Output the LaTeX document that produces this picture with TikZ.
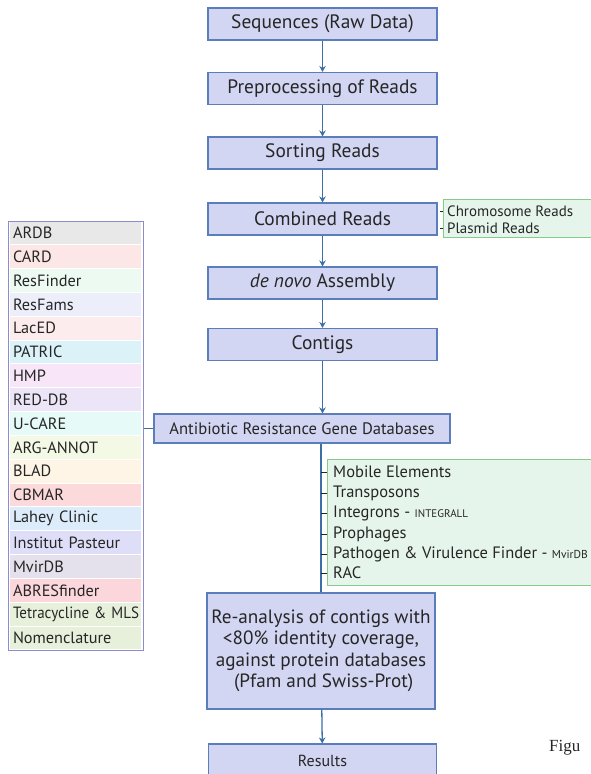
\documentclass[tikz,border=0pt]{standalone}
\usepackage{fontspec}
\setmainfont{PT Sans}
\newfontfamily\capfont{Liberation Serif}
\usetikzlibrary{arrows.meta,positioning}

\definecolor{boxfill}{HTML}{D2D6F2}
\definecolor{boxline}{HTML}{5B7EBB}
\definecolor{arrowc}{HTML}{3C6FA6}
\definecolor{txt}{HTML}{262626}
\definecolor{greenfill}{HTML}{E6F5EC}
\definecolor{greenline}{HTML}{86CC86}
\definecolor{listline}{HTML}{8C8CCC}
\definecolor{dA}{HTML}{E8E8E8}
\definecolor{dB}{HTML}{FDE6E6}
\definecolor{dC}{HTML}{EDFAF2}
\definecolor{dD}{HTML}{ECEFFA}
\definecolor{dE}{HTML}{FDECEE}
\definecolor{dF}{HTML}{DBF2F8}
\definecolor{dG}{HTML}{F8E5F8}
\definecolor{dH}{HTML}{ECE5F8}
\definecolor{dI}{HTML}{E6FAF7}
\definecolor{dJ}{HTML}{F3F9E5}
\definecolor{dK}{HTML}{FFF5E6}
\definecolor{dL}{HTML}{FCD9DA}
\definecolor{dM}{HTML}{DCECFA}
\definecolor{dN}{HTML}{DEDEF8}
\definecolor{dO}{HTML}{E5E1EC}
\definecolor{dP}{HTML}{FBD6DB}
\definecolor{dQ}{HTML}{E7F0DB}

\begin{document}
\begin{tikzpicture}[x=1pt,y=-1pt,
	stepbox/.style={draw=boxline, fill=boxfill, line width=1.1pt, minimum width=229pt, minimum height=32pt, inner sep=0pt, text=txt, font=\fontsize{19.4}{21}\selectfont},
	flow/.style={-{Stealth[length=6pt,width=6.5pt]}, draw=arrowc, line width=1.3pt},
	link/.style={draw=arrowc, line width=1.3pt},
	tick/.style={draw=txt, line width=0.7pt},
	dbrow/.style={minimum width=131pt, minimum height=22.8pt, inner xsep=3pt, inner ysep=0pt, text width=125pt, align=left, text=txt, font=\fontsize{16.3}{17}\selectfont},
	greenbox/.style={draw=greenline, fill=greenfill, line width=1.1pt, inner sep=0pt}]
	\clip (0,0) rectangle (591,774);
	% main flow
	\node[stepbox] (seq) at (322.5,24) {Sequences (Raw Data)};
	\node[stepbox] (pre) at (322.5,88.5) {Preprocessing of Reads};
	\node[stepbox] (sort) at (322.5,153) {Sorting Reads};
	\node[stepbox] (comb) at (322.5,219) {Combined Reads};
	\node[stepbox] (asm) at (322.5,283) {\textit{de novo} Assembly};
	\node[stepbox] (cont) at (322.5,344.5) {Contigs};
	\node[stepbox, minimum width=296pt, minimum height=29pt, font=\fontsize{16.6}{18}\selectfont] (arg) at (302,428.5) {Antibiotic Resistance Gene Databases};
	\node[stepbox, minimum width=228pt, minimum height=116pt, align=center, font=\fontsize{19.2}{21.5}\selectfont] (reana) at (321,651)
		{Re-analysis of contigs with\\ <80\% identity coverage,\\ against protein databases\\ \;(Pfam and Swiss-Prot)};
	\node[stepbox, minimum width=228pt, minimum height=34pt, font=\fontsize{16}{18}\selectfont] (res) at (322.5,761) {Results};
	\foreach \a/\b in {seq/pre, pre/sort, sort/comb, comb/asm, asm/cont}
		\draw[flow] (\a) -- (\b);
	\draw[flow] (cont.south) -- (cont.south |- arg.north);
	\draw[link] (reana.north |- arg.south) -- (reana.north);
	\draw[flow] (reana) -- (res);
	% reads split
	\node[greenbox, minimum width=160pt, minimum height=38pt, anchor=north west] (split) at (443,199) {};
	\node[anchor=west, text=txt, font=\fontsize{15}{16}\selectfont, inner sep=0pt] (chrom) at (447,211) {Chromosome Reads};
	\node[anchor=west, text=txt, font=\fontsize{15}{16}\selectfont, inner sep=0pt] (plas) at (447,228) {Plasmid Reads};
	\draw[tick] (chrom.west -| split.west) ++(-3.5,0) -- ++(3.5,0);
	\draw[tick] (plas.west -| split.west) ++(-3.5,0) -- ++(3.5,0);
	% mobile elements
	\node[greenbox, minimum width=275pt, minimum height=126pt, anchor=north west] (mge) at (327,459) {};
	\foreach \lbl/\yy [count=\k] in {Mobile Elements/472, Transposons/493, {Integrons - {\fontsize{11}{12}\selectfont INTEGRALL}}/513.5, Prophages/534, {Pathogen \& Virulence Finder - {\fontsize{11.5}{12}\selectfont MvirDB}}/554.5, RAC/573}{
		\node[anchor=west, text=txt, font=\fontsize{16.5}{17}\selectfont, inner sep=0pt] (mg\k) at (333,\yy) {\lbl};
		\draw[tick] (reana.north |- mg\k.west) -- (mg\k.west -| mge.west);
	}
	% database list
	\node[draw=listline, line width=1.1pt, minimum width=135pt, minimum height=429pt, anchor=north west, inner sep=0pt] (dblist) at (8,221) {};
	\foreach \name/\col [count=\i from 0] in {ARDB/dA, CARD/dB, ResFinder/dC, ResFams/dD, LacED/dE, PATRIC/dF, HMP/dG, RED-DB/dH, U-CARE/dI, ARG-ANNOT/dJ, BLAD/dK, CBMAR/dL, Lahey Clinic/dM, Institut Pasteur/dN, MvirDB/dO, ABRESfinder/dP, {\resizebox{126pt}{\height}{Tetracycline \& MLS}}/dQ, Nomenclature/dQ}
		\node[dbrow, fill=\col] (db\i) at (75.5,232.9+\i*23.83) {\name};
	\draw[link] (arg.west) -- (arg.west -| dblist.east);
	% caption fragment
	\node[anchor=west, inner sep=0pt, text=txt, font=\capfont\fontsize{17}{19}\selectfont] (fig) at (549,748) {Figu};
\end{tikzpicture}
\end{document}
